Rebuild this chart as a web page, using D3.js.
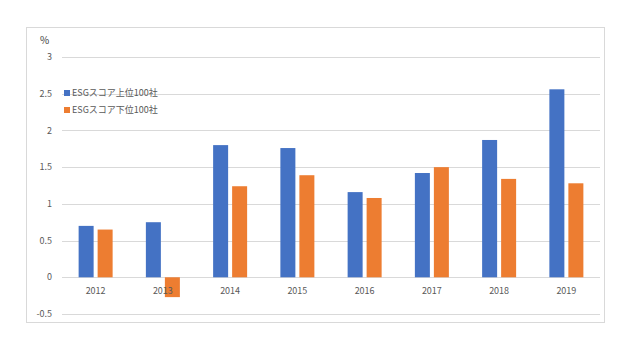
<!DOCTYPE html>
<html>
<head>
<meta charset="utf-8">
<script src="https://cdn.jsdelivr.net/npm/d3@7"></script>
<style>
  body { margin: 0; background: #fff; }
  svg { display: block; font-family: "Noto Sans CJK JP", "Noto Sans", sans-serif; }
</style>
</head>
<body>
<div id="chart"></div>
<script>
// Data
const years = ["2012", "2013", "2014", "2015", "2016", "2017", "2018", "2019"];
const seriesNames = ["ESGスコア上位100社", "ESGスコア下位100社"];
const top100 = [0.70, 0.75, 1.80, 1.76, 1.16, 1.42, 1.87, 2.56];
const bottom100 = [0.65, -0.27, 1.24, 1.39, 1.08, 1.50, 1.34, 1.28];
const yTicks = [-0.5, 0, 0.5, 1, 1.5, 2, 2.5, 3];
const colors = ["#4472C4", "#ED7D31"];

const width = 640, height = 352;
const marginLeft = 62, marginRight = 40, marginTop = 57, marginBottom = 38;

const svg = d3.select("#chart").append("svg")
    .attr("width", width)
    .attr("height", height);

// chart frame
svg.append("rect")
    .attr("x", 26.5).attr("y", 27.5)
    .attr("width", 578).attr("height", 295)
    .attr("fill", "#fff")
    .attr("stroke", "#d9d9d9");

const x = d3.scaleBand()
    .domain(years)
    .range([marginLeft, width - marginRight]);

const y = d3.scaleLinear()
    .domain([-0.5, 3])
    .range([height - marginBottom, marginTop]);

// gridlines
svg.append("g")
  .selectAll("line")
  .data(yTicks)
  .join("line")
    .attr("x1", marginLeft)
    .attr("x2", width - marginRight)
    .attr("y1", d => Math.round(y(d)) + 0.5)
    .attr("y2", d => Math.round(y(d)) + 0.5)
    .attr("stroke", "#d9d9d9");

// y tick labels
svg.append("g")
  .selectAll("text")
  .data(yTicks)
  .join("text")
    .attr("x", 52)
    .attr("y", d => y(d))
    .attr("dy", "0.35em")
    .attr("text-anchor", "end")
    .attr("fill", "#595959")
    .style("font-size", "9px")
    .text(d => d);

svg.append("text")
    .attr("x", 40).attr("y", 44)
    .attr("fill", "#404040")
    .style("font-size", "10px")
    .text("%");

// bars
const barW = 15, gap = 4;
const series = [top100, bottom100];
series.forEach((vals, si) => {
  svg.append("g")
    .attr("fill", colors[si])
    .selectAll("rect")
    .data(years.map((yr, i) => ({ yr, v: vals[i] })))
    .join("rect")
      .attr("x", d => x(d.yr) + x.bandwidth() / 2 - barW - gap / 2 + si * (barW + gap))
      .attr("y", d => y(Math.max(0, d.v)))
      .attr("width", barW)
      .attr("height", d => Math.abs(y(d.v) - y(0)));
});

// x labels
svg.append("g")
  .selectAll("text")
  .data(years)
  .join("text")
    .attr("x", d => x(d) + x.bandwidth() / 2)
    .attr("y", 294)
    .attr("text-anchor", "middle")
    .attr("fill", "#595959")
    .style("font-size", "9px")
    .text(d => d);

// legend
const legend = svg.append("g")
  .selectAll("g")
  .data(seriesNames)
  .join("g")
    .attr("transform", (d, i) => `translate(64,${93 + i * 17})`);

legend.append("rect")
    .attr("x", 0).attr("y", -3)
    .attr("width", 6).attr("height", 6)
    .attr("fill", (d, i) => colors[i]);

legend.append("text")
    .attr("x", 8)
    .attr("dy", "0.35em")
    .attr("fill", "#595959")
    .style("font-size", "9px")
    .text(d => d);
</script>
</body>
</html>
